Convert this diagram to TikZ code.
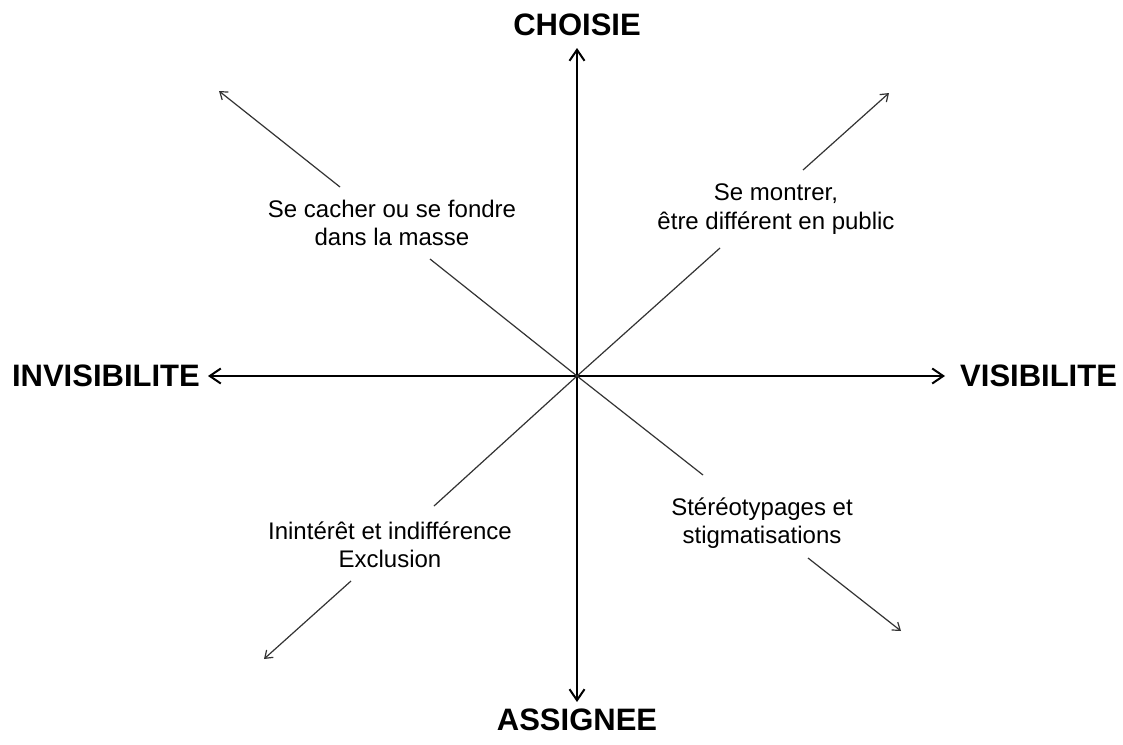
\documentclass[tikz,border=0pt]{standalone}
\usepackage{fontspec}
\setmainfont{Liberation Sans}
\usetikzlibrary{arrows.meta}
\begin{document}
\begin{tikzpicture}[x=1pt,y=-1pt,
  axis/.style={line width=2pt, black, {Straight Barb[length=11pt,width=15pt,line width=2pt]}-{Straight Barb[length=11pt,width=15pt,line width=2pt]}},
  diag/.style={line width=1.2pt, black!80},
  diagtip/.style={diag, -{Straight Barb[length=7pt,width=10pt,line width=1.2pt]}},
  axlabel/.style={font=\fontsize{31}{36}\selectfont\bfseries, inner sep=0pt},
  qlabel/.style={font=\fontsize{24}{28.5}\selectfont, align=center, inner sep=0pt}]
\useasboundingbox[fill=white] (0,0) rectangle (1123,744);
\coordinate (O) at (577,376);
\coordinate (topend) at (577,48);
\coordinate (botend) at (577,702);
\coordinate (leftend) at (208,376);
\coordinate (rightend) at (945,376);
% axes
\draw[axis] (topend) -- (botend);
\draw[axis] (leftend) -- (rightend);
% axis labels
\node[axlabel] (choisie) at (577,25) {CHOISIE};
\node[axlabel] (assignee) at (577,720) {ASSIGNEE};
\node[axlabel, anchor=east] (invis) at (200,376) {INVISIBILITE};
\node[axlabel, anchor=west] (vis) at (960,376) {VISIBILITE};
% quadrant labels
\node[qlabel] (nw) at (392,223) {Se cacher ou se fondre\\dans la masse};
\node[qlabel] (ne) at (776,209) {Se montrer,\\être différent en public};
\node[qlabel] (sw) at (390,545) {Inintérêt et indifférence\\Exclusion};
\node[qlabel] (se) at (762,523) {Stéréotypages et\\stigmatisations};
% diagonal coordinates
\coordinate (nwA) at (430,259);
\coordinate (nwB) at (340,187);
\coordinate (nwT) at (219,91);
\coordinate (neA) at (720,248);
\coordinate (neB) at (803,170);
\coordinate (neT) at (889,93);
\coordinate (swA) at (434,506);
\coordinate (swB) at (351,581);
\coordinate (swT) at (264,659);
\coordinate (seA) at (703,475);
\coordinate (seB) at (808,558);
\coordinate (seT) at (901,631);
% diagonals
\draw[diag] (O) -- (nwA);
\draw[diagtip] (nwB) -- (nwT);
\draw[diag] (O) -- (neA);
\draw[diagtip] (neB) -- (neT);
\draw[diag] (O) -- (swA);
\draw[diagtip] (swB) -- (swT);
\draw[diag] (O) -- (seA);
\draw[diagtip] (seB) -- (seT);
\end{tikzpicture}
\end{document}
